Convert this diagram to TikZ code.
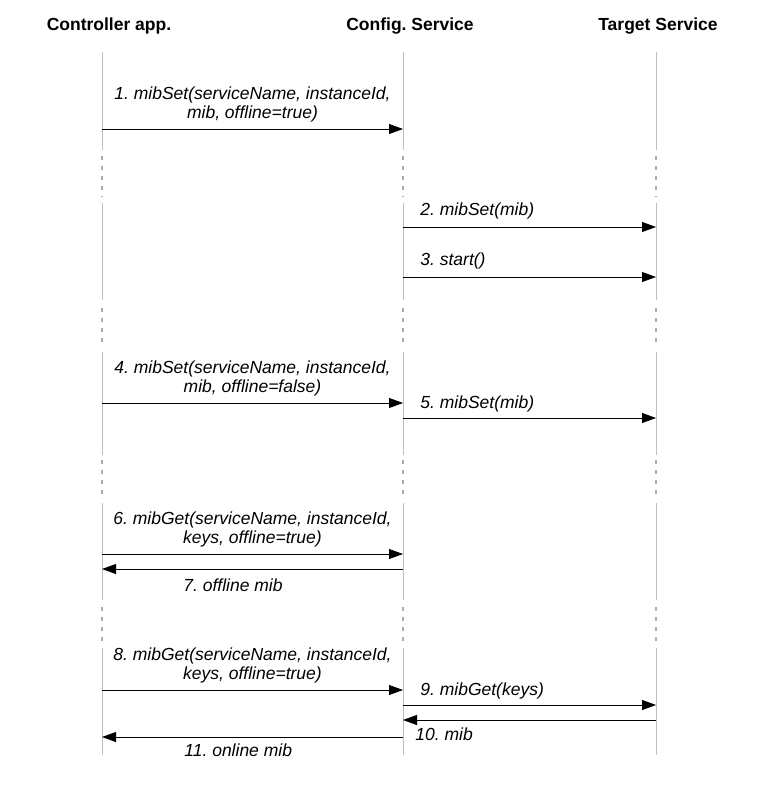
\documentclass[tikz,border=0pt]{standalone}
\usepackage{fontspec}
\setmainfont{Liberation Sans}
\usepackage{tikz}
\usetikzlibrary{arrows.meta,positioning}
\frenchspacing

\tikzset{
  head/.style={font=\fontsize{17.5}{19}\selectfont\bfseries},
  lbl/.style={font=\fontsize{17.5}{19}\selectfont\itshape, inner sep=0pt, align=center},
  life/.style={gray!50, line width=0.8pt},
  lifegap/.style={gray!65, line width=1.2pt, dash pattern=on 4pt off 6pt},
  msg/.style={-{Triangle[length=14pt,width=10pt]}, line width=0.8pt},
}

\begin{document}
\begin{tikzpicture}[x=1pt,y=-1pt]
        \useasboundingbox (0,0) rectangle (756,806);

        % participants
        \node[head] (hctrl) at (109,26) {Controller app.};
        \node[head] (hconf) at (410,26) {Config. Service};
        \node[head] (htarg) at (658,26) {Target Service};

        \coordinate (ctrl) at (102,0);
        \coordinate (conf) at (403,0);
        \coordinate (targ) at (656,0);

        % lifelines
        \foreach \x in {102,403,656}{
          \foreach \a/\b in {52/150,203/300,352/455,503/600,648/755}
            \draw[life] (\x,\a) -- (\x,\b);
          \foreach \a/\b in {156/197,308/345,460/497,607/643}
            \draw[lifegap] (\x,\a) -- (\x,\b);
        }

        % message rows
        \foreach \n/\y in {1/129,2/227,3/277,4/403,5/418,6/554,7/569,8/690,9/705,10/720,11/737}
          \coordinate (m\n) at (0,\y);

        \draw[msg] (ctrl |- m1) -- node[lbl, above=6pt] {1. mibSet(serviceName, instanceId,\\ mib, offline=true)} (conf |- m1);

        \draw[msg] (conf |- m2) -- node[lbl, pos=0, above right=7pt and 17pt] {2. mibSet(mib)} (targ |- m2);
        \draw[msg] (conf |- m3) -- node[lbl, pos=0, above right=7pt and 17pt] {3. start()} (targ |- m3);

        \draw[msg] (ctrl |- m4) -- node[lbl, above=6pt] {4. mibSet(serviceName, instanceId,\\ mib, offline=false)} (conf |- m4);
        \draw[msg] (conf |- m5) -- node[lbl, pos=0, above right=5pt and 17pt] {5. mibSet(mib)} (targ |- m5);

        \draw[msg] (ctrl |- m6) -- node[lbl, above=6pt] {6. mibGet(serviceName, instanceId,\\ keys, offline=true)} (conf |- m6);
        \draw[msg] (conf |- m7) -- node[lbl, pos=1, below right=9pt and 81pt] {7. offline mib} (ctrl |- m7);

        \draw[msg] (ctrl |- m8) -- node[lbl, above=6pt] {8. mibGet(serviceName, instanceId,\\ keys, offline=true)} (conf |- m8);
        \draw[msg] (conf |- m9) -- node[lbl, pos=0, above right=5pt and 17pt] {9. mibGet(keys)} (targ |- m9);
        \draw[msg] (targ |- m10) -- node[lbl, pos=1, below right=7pt and 12pt] {10. mib} (conf |- m10);
        \draw[msg] (conf |- m11) -- node[lbl, pos=1, below right=6pt and 82pt] {11. online mib} (ctrl |- m11);

\end{tikzpicture}
\end{document}
